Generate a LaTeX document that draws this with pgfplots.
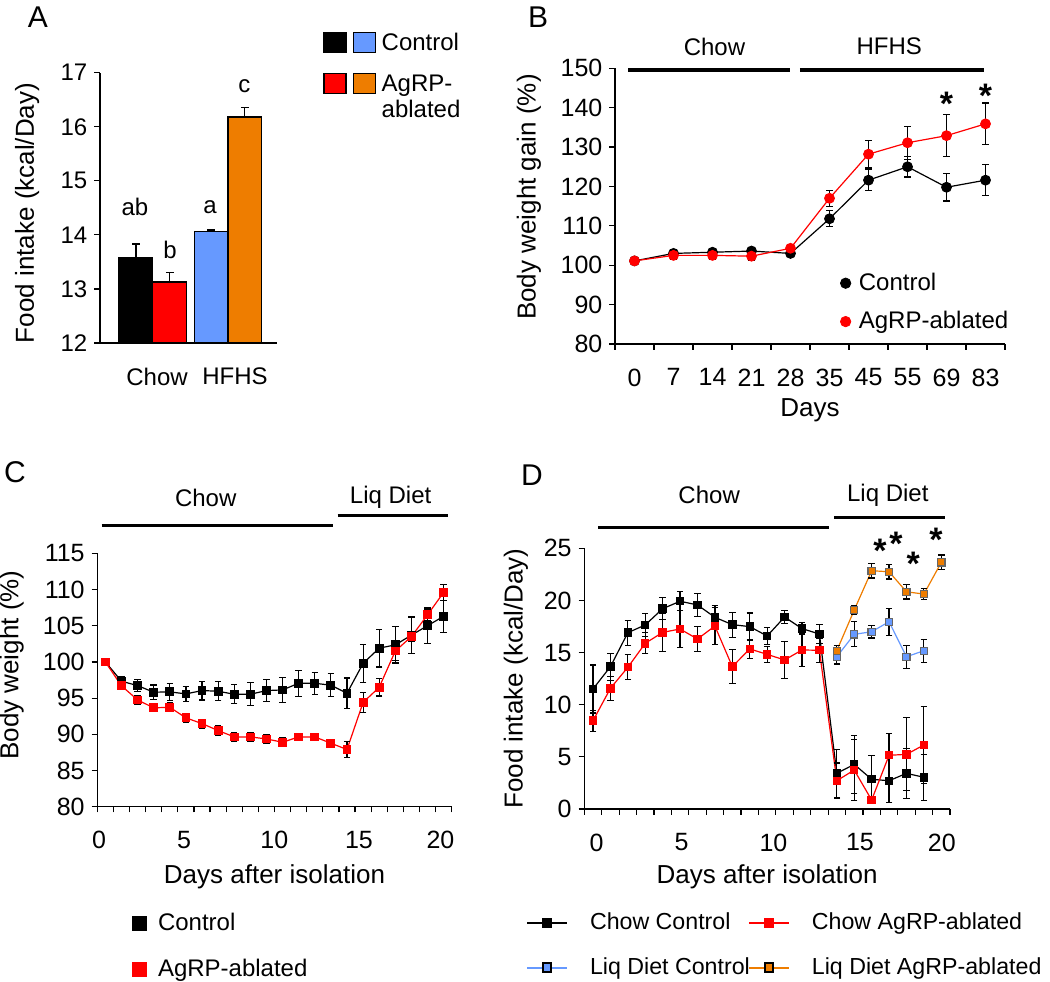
\documentclass[border=0pt]{standalone}
\usepackage{fontspec}
\setmainfont{Liberation Sans}
\usepackage{pgfplots}
\pgfplotsset{compat=1.18}
\definecolor{myblue}{RGB}{102,153,255}
\definecolor{myorange}{RGB}{238,125,0}
\definecolor{myred}{RGB}{255,0,0}

\pgfplotsset{
  panel/.style={
    scale only axis, anchor=south west,
    axis x line*=bottom, axis y line*=left,
    axis line style={line width=0.6pt,-},
    tick align=outside,
    every tick/.style={black, line width=0.6pt},
    major tick length=2.8pt, minor tick length=2.8pt,
    tick label style={font=\fontsize{12.5}{14}\selectfont},
    label style={font=\fontsize{13}{15}\selectfont},
    /pgf/number format/assume math mode=true,
    xticklabel style={yshift=-6pt},
    legend style={draw=none, fill=none, inner sep=0pt, outer sep=0pt,
      font=\fontsize{12}{14}\selectfont},
    legend cell align=left,
    clip=false,
  },
  ln/.style={line width=0.6pt, mark options={solid},
    error bars/y dir=both, error bars/y explicit,
    error bars/error bar style={line width=0.6pt, black},
    error bars/error mark options={rotate=90, mark size=1.6pt, line width=0.6pt, black}},
}
\newcommand{\lbl}{\fontsize{12}{14}\selectfont}
\newcommand{\panel}{\fontsize{15}{17}\selectfont}
\newcommand{\sigstar}{\fontsize{17}{17}\selectfont\bfseries *}

\begin{document}
\begin{tikzpicture}
\path[use as bounding box] (0,0) rectangle (525pt,490.5pt);

% ---------------- A
\begin{axis}[panel, at={(50pt,319pt)}, width=88.5pt, height=135.15pt,
  xmin=0.2836, xmax=2.6626, ymin=12, ymax=17, ytick={12,...,17},
  xtick={1.05,2.098}, xticklabels={Chow,HFHS}, major x tick style={draw=none},
  tick label style={font=\fontsize{12}{14}\selectfont},
  ylabel={Food intake (kcal/Day)},
  ylabel style={at={(axis description cs:-0.412,0.481)}, anchor=center},
  legend columns=2,
  legend image code/.code={\draw[line width=0.6pt, #1] (0pt,-0.8pt) rectangle (11pt,9.2pt);},
  legend style={at={(1.2616,1.1506)}, anchor=north west, row sep=9.5pt,
    nodes={inner sep=0pt, anchor=base west},
    /tikz/every odd column/.style={column sep=0pt},
    /tikz/every even column/.style={column sep=2pt}}]
\addplot[fill=black, draw=black, line width=0.6pt, forget plot] coordinates {(0.5395,12) (0.5395,13.58) (0.9945,13.58) (0.9945,12)} -- cycle;
\addplot[fill=myred, draw=black, line width=0.6pt, forget plot] coordinates {(0.9945,12) (0.9945,13.13) (1.4485,13.13) (1.4485,12)} -- cycle;
\addplot[fill=myblue, draw=black, line width=0.6pt, forget plot] coordinates {(1.5485,12) (1.5485,14.06) (2.0035,14.06) (2.0035,12)} -- cycle;
\addplot[fill=myorange, draw=black, line width=0.6pt, forget plot] coordinates {(2.0035,12) (2.0035,16.18) (2.4585,16.18) (2.4585,12)} -- cycle;
\addplot[draw=none, forget plot, error bars/y dir=plus, error bars/y explicit,
  error bars/error bar style={draw=black, line width=0.6pt},
  error bars/error mark options={draw=black, rotate=90, mark size=1.9pt, line width=0.6pt}]
  coordinates {(0.767,13.58) +- (0,0.25) (1.221,13.13) +- (0,0.18) (1.776,14.06) +- (0,0.03) (2.231,16.18) +- (0,0.17)};
\node[font=\lbl] at (axis cs:0.754,14.52) {ab};
\node[font=\lbl] at (axis cs:1.224,13.73) {b};
\node[font=\lbl] at (axis cs:1.762,14.52) {a};
\node[font=\lbl] at (axis cs:2.223,16.75) {c};
\addlegendimage{fill=black, draw=black}
\addlegendentry{}
\addlegendimage{fill=myblue, draw=black}
\addlegendentry{\hspace*{3pt}Control}
\addlegendimage{fill=myred, draw=black}
\addlegendentry{}
\addlegendimage{fill=myorange, draw=black}
\addlegendentry{\fontsize{12}{13}\selectfont\vtop{\hbox{\hspace*{3pt}AgRP-}\hbox{\hspace*{3pt}ablated}}}
\end{axis}
\node[font=\panel] at (19pt,481.75pt) {A};

% ---------------- B
\begin{axis}[panel, at={(307.5pt,318.5pt)}, width=195pt, height=137.85pt,
  xmin=-0.5, xmax=9.5, ymin=80, ymax=150, ytick={80,90,...,150},
  xtick={0,...,9}, xticklabels={0,7,14,21,28,35,45,55,69,83},
  minor xtick={-0.5,0.5,...,9.5}, major x tick style={draw=none},
  xlabel={Days}, ylabel={Body weight gain (\%)},
  xlabel style={at={(axis description cs:0.5,-0.2394)}, anchor=center},
  ylabel style={at={(axis description cs:-0.2205,0.533)}, anchor=center},
  legend image code/.code={\draw[mark repeat=2, mark phase=2, #1] plot coordinates {(0pt,0pt) (5pt,0pt) (10pt,0pt)};},
  legend style={at={(0.578,0.272)}, anchor=north west, row sep=5pt,
    /tikz/every odd column/.style={column sep=2pt}}]
\draw[line width=2pt] (axis cs:-0.16,149.6) -- (axis cs:3.98,149.6);
\draw[line width=2pt] (axis cs:4.24,149.6) -- (axis cs:8.95,149.6);
\node[font=\lbl] at (axis cs:2.05,155.5) {Chow};
\node[font=\lbl] at (axis cs:6.53,155.5) {HFHS};
\node[yshift=-3.6pt] at (axis cs:8,142.8) {\sigstar};
\node[yshift=-3.6pt] at (axis cs:9,144.9) {\sigstar};
\addplot[ln, black, mark=*, mark size=2.4pt, forget plot] coordinates {
 (0,101.1) +- (0,0.8) (1,103.0) +- (0,1.0) (2,103.3) +- (0,1.0) (3,103.6) +- (0,0.8)
 (4,103.0) +- (0,0.8) (5,111.8) +- (0,2.0) (6,121.6) +- (0,2.7) (7,125.0) +- (0,2.6)
 (8,119.8) +- (0,3.5) (9,121.6) +- (0,3.9)};
\addplot[ln, myred, mark=*, mark size=2.4pt, forget plot] coordinates {
 (0,101.1) +- (0,0.8) (1,102.5) +- (0,1.0) (2,102.5) +- (0,1.0) (3,102.3) +- (0,1.0)
 (4,104.3) +- (0,1.0) (5,117.0) +- (0,2.0) (6,128.2) +- (0,3.5) (7,131.1) +- (0,4.2)
 (8,132.9) +- (0,5.3) (9,135.9) +- (0,5.3)};
\addlegendimage{only marks, mark=*, mark size=2.6pt, black}
\addlegendentry{Control}
\addlegendimage{only marks, mark=*, mark size=2.6pt, myred}
\addlegendentry{AgRP-ablated}
\end{axis}
\node[font=\panel] at (269pt,482pt) {B};

% ---------------- C
\begin{axis}[panel, at={(48.65pt,87.15pt)}, width=177.2pt, height=126.7pt,
  xmin=-0.5, xmax=21.5, ymin=80, ymax=115, ytick={80,85,...,115},
  xtick={-0.39,4.88,10.49,15.74,20.8}, xticklabels={0,5,10,15,20},
  minor xtick={-0.5,0.5,...,21.5}, major x tick style={draw=none},
  xlabel={Days after isolation}, ylabel={Body weight (\%)},
  xlabel style={at={(axis description cs:0.5,-0.2762)}, anchor=center},
  ylabel style={at={(axis description cs:-0.2415,0.559)}, anchor=center},
  legend image code/.code={\draw[mark repeat=2, mark phase=2, #1] plot coordinates {(0pt,0pt) (5pt,0pt) (10pt,0pt)};},
  legend style={at={(0.098,-0.405)}, anchor=north west, row sep=8.5pt,
    /tikz/every odd column/.style={column sep=4pt}}]
\draw[line width=1.7pt] (axis cs:-0.23,118.8) -- (axis cs:14.11,118.8);
\draw[line width=1.7pt] (axis cs:14.42,120.2) -- (axis cs:21.25,120.2);
\node[font=\lbl] at (axis cs:6.23,122.6) {Chow};
\node[font=\lbl] at (axis cs:17.71,122.7) {Liq Diet};
\addplot[ln, black, mark=square*, mark size=1.9pt, forget plot] coordinates {
 (0,100) +- (0,0.3) (1,97.33) +- (0,0.7) (2,96.73) +- (0,0.8) (3,95.81) +- (0,1.0)
 (4,95.86) +- (0,1.2) (5,95.58) +- (0,1.0) (6,96.04) +- (0,1.3) (7,95.95) +- (0,1.3)
 (8,95.53) +- (0,1.3) (9,95.53) +- (0,1.6) (10,96.04) +- (0,1.5) (11,96.13) +- (0,1.7)
 (12,97.05) +- (0,1.8) (13,97.05) +- (0,1.5) (14,96.78) +- (0,1.6) (15,95.67) +- (0,2.1)
 (16,99.8) +- (0,2.6) (17,101.9) +- (0,2.6) (18,102.35) +- (0,2.5) (19,103.7) +- (0,2.5)
 (20,105.0) +- (0,2.5) (21,106.3) +- (0,2.2)};
\addplot[ln, myred, mark=square*, mark size=1.9pt, forget plot] coordinates {
 (0,100) +- (0,0.3) (1,96.7) +- (0,0.5) (2,94.75) +- (0,0.6) (3,93.65) +- (0,0.5)
 (4,93.74) +- (0,0.6) (5,92.27) +- (0,0.6) (6,91.48) +- (0,0.6) (7,90.52) +- (0,0.7)
 (8,89.64) +- (0,0.6) (9,89.64) +- (0,0.6) (10,89.36) +- (0,0.6) (11,88.9) +- (0,0.6)
 (12,89.64) +- (0,0.5) (13,89.64) +- (0,0.5) (14,88.77) +- (0,0.5) (15,87.9) +- (0,1.1)
 (16,94.4) +- (0,1.4) (17,96.5) +- (0,1.2) (18,101.5) +- (0,1.3) (19,103.5) +- (0,0.6)
 (20,106.5) +- (0,0.8) (21,109.6) +- (0,1.1)};
\addlegendimage{only marks, mark=square*, mark size=3.5pt, black}
\addlegendentry{Control}
\addlegendimage{only marks, mark=square*, mark size=3.5pt, myred}
\addlegendentry{AgRP-ablated}
\end{axis}
\node[font=\panel] at (7.5pt,254.5pt) {C};

% ---------------- D
\begin{axis}[panel, at={(292.15pt,86pt)}, width=182.85pt, height=130.35pt,
  xmin=-0.5, xmax=20.5, ymin=0, ymax=25, ytick={0,5,...,25},
  xtick={0.21,5.09,10.36,15.33,20.03}, xticklabels={0,5,10,15,20},
  minor xtick={-0.5,0.5,...,20.5}, major x tick style={draw=none},
  xlabel={Days after isolation}, ylabel={Food intake (kcal/Day)},
  xlabel style={at={(axis description cs:0.5,-0.2608)}, anchor=center},
  ylabel style={at={(axis description cs:-0.1873,0.5)}, anchor=center},
  legend columns=2,
  legend image code/.code={\draw[mark repeat=2, mark phase=2, #1] plot coordinates {(0pt,0pt) (10pt,0pt) (20pt,0pt)};},
  legend style={at={(-0.1594,-0.384)}, anchor=north west, row sep=8.5pt,
    font=\fontsize{11.6}{14}\selectfont,
    /tikz/every odd column/.style={column sep=9pt},
    /tikz/every even column/.style={column sep=-3pt}}]
\draw[line width=1.7pt] (axis cs:0.31,27.01) -- (axis cs:13.53,27.01);
\draw[line width=1.7pt] (axis cs:13.84,27.97) -- (axis cs:20.2,27.97);
\node[font=\lbl] at (axis cs:6.67,30.1) {Chow};
\node[font=\lbl] at (axis cs:16.93,30.1) {Liq Diet};
\node[yshift=-3.6pt] at (axis cs:16.48,25.47) {\sigstar};
\node[yshift=-3.6pt] at (axis cs:17.4,26.1) {\sigstar};
\node[yshift=-3.6pt] at (axis cs:18.39,24.19) {\sigstar};
\node[yshift=-3.6pt] at (axis cs:19.7,26.49) {\sigstar};
\addplot[ln, black, mark=square*, mark size=1.8pt, forget plot] coordinates {
 (0,11.51) +- (0,2.3) (1,13.65) +- (0,1.3) (2,16.91) +- (0,1.2) (3,17.65) +- (0,1.1)
 (4,19.21) +- (0,1.05) (5,19.92) +- (0,0.9) (6,19.57) +- (0,1.1) (7,18.38) +- (0,1.1)
 (8,17.68) +- (0,1.2) (9,17.49) +- (0,1.3) (10,16.59) +- (0,0.8) (11,18.41) +- (0,0.6)
 (12,17.30) +- (0,0.6) (13,16.78) +- (0,0.9) (14,3.42) +- (0,2.3) (15,4.28) +- (0,2.8)
 (16,2.85) +- (0,2.3) (17,2.71) +- (0,2.1) (18,3.42) +- (0,2.4) (19,3.04) +- (0,2.2)};
\addplot[ln, myred, mark=square*, mark size=1.8pt, forget plot] coordinates {
 (0,8.47) +- (0,1.0) (1,11.57) +- (0,1.15) (2,13.59) +- (0,1.2) (3,15.89) +- (0,1.0)
 (4,16.94) +- (0,1.8) (5,17.26) +- (0,1.75) (6,16.30) +- (0,1.2) (7,17.55) +- (0,1.8)
 (8,13.65) +- (0,1.65) (9,15.35) +- (0,0.9) (10,14.83) +- (0,0.75) (11,14.29) +- (0,1.8)
 (12,15.25) +- (0,1.6) (13,15.22) +- (0,1.15) (14,2.71) +- (0,1.7) (15,3.74) +- (0,2.9)
 (16,0.86) +- (0,0.3) (17,5.15) +- (0,2.1) (18,5.24) +- (0,3.5) (19,6.14) +- (0,3.7)};
\addplot[ln, myblue, mark=square*, mark size=1.8pt, mark options={fill=myblue, draw=gray!80!black}, forget plot] coordinates {
 (14,14.6) +- (0,0.7) (15,16.75) +- (0,1.2) (16,17.0) +- (0,0.6) (17,17.96) +- (0,1.3)
 (18,14.6) +- (0,1.1) (19,15.18) +- (0,1.1)};
\addplot[ln, myorange, mark=square*, mark size=1.8pt, mark options={fill=myorange, draw=gray!80!black}, forget plot] coordinates {
 (14,15.18) +- (0,0.5) (15,19.08) +- (0,0.4) (16,22.85) +- (0,0.7) (17,22.75) +- (0,0.7)
 (18,20.83) +- (0,0.7) (19,20.61) +- (0,0.5) (20,23.65) +- (0,0.7)};
\addlegendimage{black, line width=1pt, mark=square*, mark size=2.2pt}
\addlegendentry{Chow Control}
\addlegendimage{myred, line width=1pt, mark=square*, mark size=2.2pt}
\addlegendentry{Chow AgRP-ablated}
\addlegendimage{myblue, line width=1pt, mark=square*, mark size=2.2pt, mark options={fill=myblue, draw=black}}
\addlegendentry{Liq Diet Control}
\addlegendimage{myorange, line width=1pt, mark=square*, mark size=2.2pt, mark options={fill=myorange, draw=black}}
\addlegendentry{Liq Diet AgRP-ablated}
\end{axis}
\node[font=\panel] at (266pt,253pt) {D};
\end{tikzpicture}
\end{document}
